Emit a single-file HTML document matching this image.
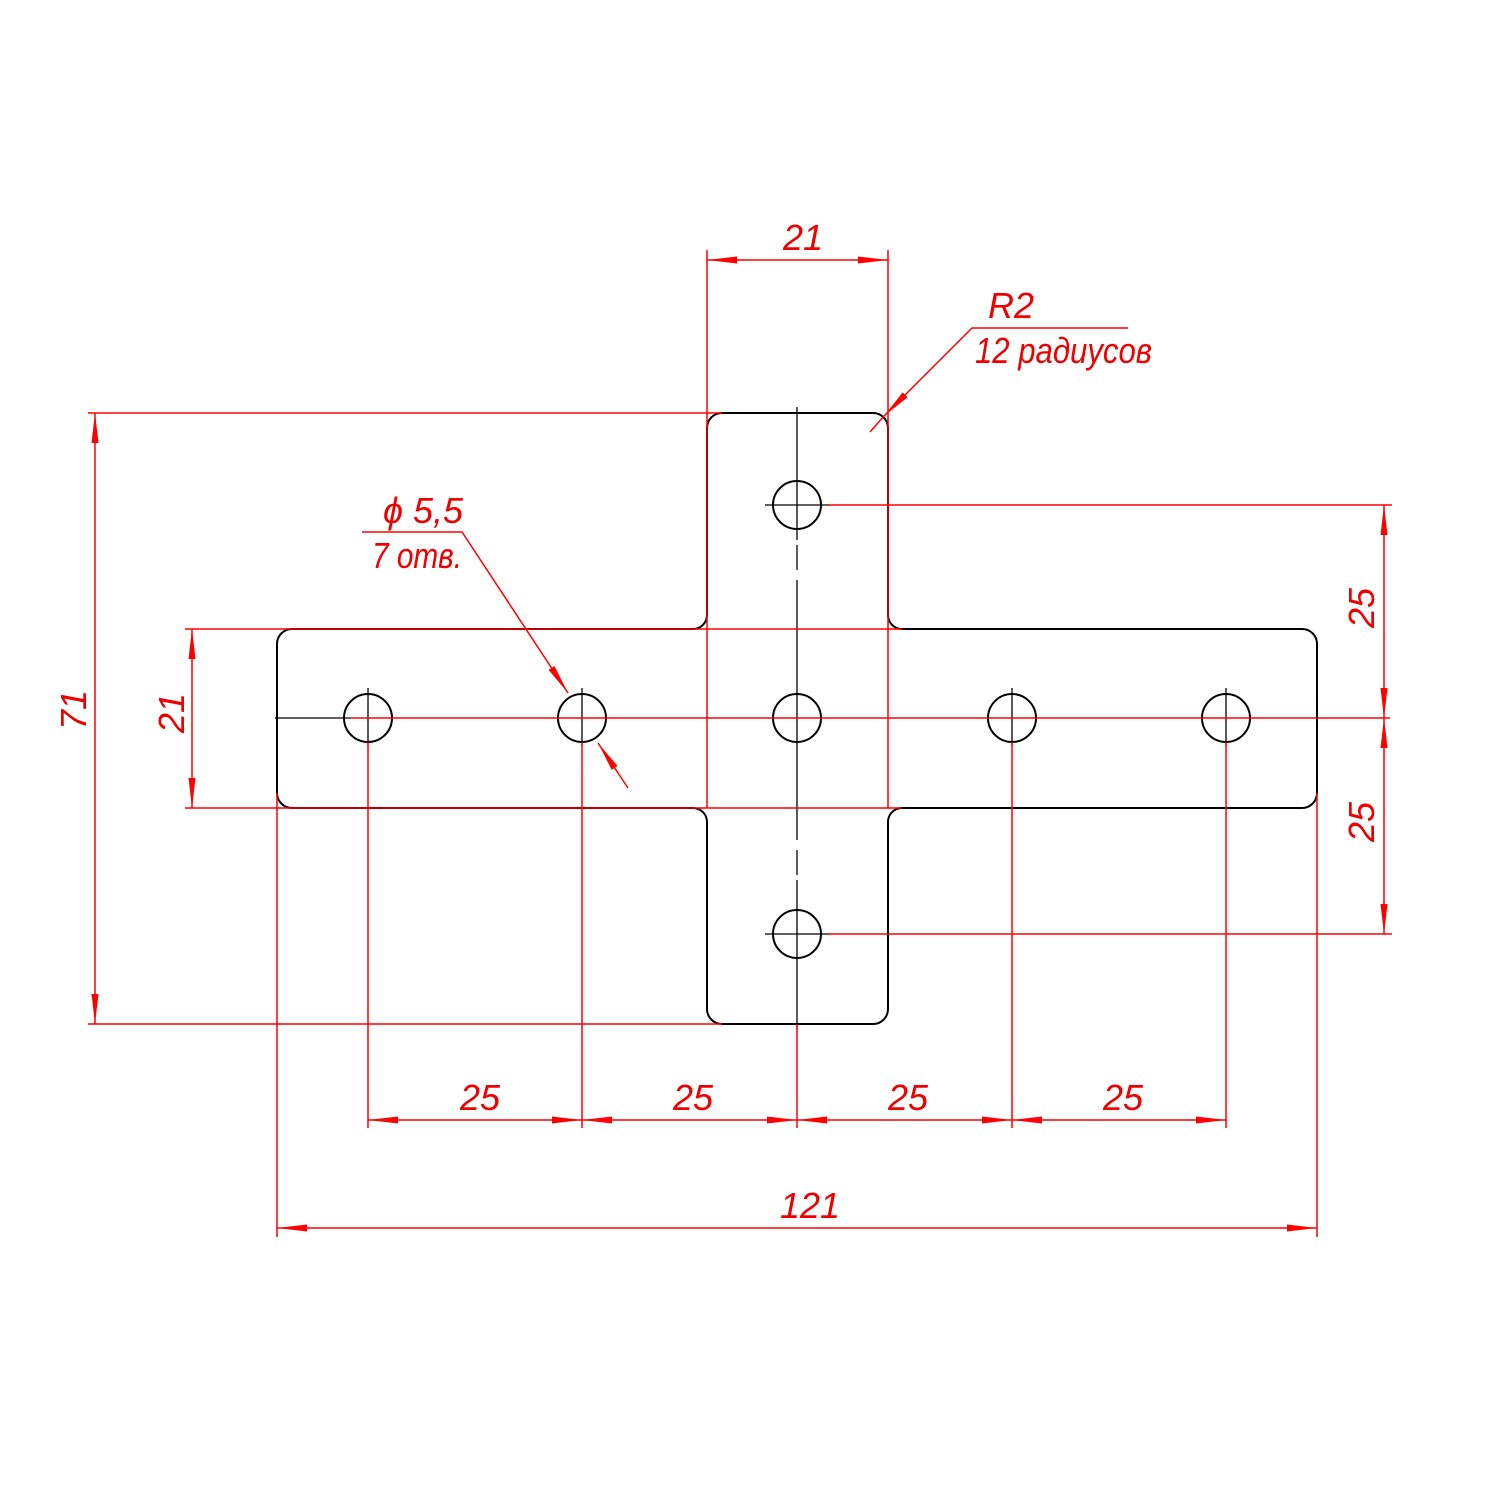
<!DOCTYPE html>
<html><head><meta charset="utf-8"><style>
html,body{margin:0;padding:0;background:#fff}
svg{display:block}
text{font-family:"Liberation Sans",sans-serif;font-style:italic;fill:#e00;font-size:36px}
</style></head><body>
<svg width="1500" height="1500" viewBox="0 0 1500 1500" xmlns="http://www.w3.org/2000/svg">
<defs>
<marker id="a" viewBox="0 0 30 10" refX="30" refY="5" markerWidth="30" markerHeight="10" markerUnits="userSpaceOnUse" orient="auto-start-reverse"><path d="M0,1.5 L30,5 L0,8.5 Z" fill="#f00"/></marker>
</defs>
<path d="M722 413 H873 A15 15 0 0 1 888 428 V615 A14 14 0 0 0 902 629 H1302 A15 15 0 0 1 1317 644 V793 A15 15 0 0 1 1302 808 H902 A14 14 0 0 0 888 822 V1009 A15 15 0 0 1 873 1024 H722 A15 15 0 0 1 707 1009 V822 A14 14 0 0 0 693 808 H292 A15 15 0 0 1 277 793 V644 A15 15 0 0 1 292 629 H693 A14 14 0 0 0 707 615 V428 A15 15 0 0 1 722 413 Z" fill="none" stroke="#000" stroke-width="2"/>
<g fill="none" stroke="#000" stroke-width="2">
<circle cx="368" cy="718" r="24"/><circle cx="582" cy="718" r="24"/><circle cx="797" cy="718" r="24"/>
<circle cx="1012" cy="718" r="24"/><circle cx="1226" cy="718" r="24"/>
<circle cx="797" cy="505" r="24"/><circle cx="797" cy="934" r="24"/>
</g>
<g stroke="#000" stroke-width="1.3">
<line x1="797" y1="407" x2="797" y2="540"/><line x1="797" y1="545" x2="797" y2="570"/>
<line x1="797" y1="580" x2="797" y2="840"/><line x1="797" y1="850" x2="797" y2="875"/>
<line x1="797" y1="880" x2="797" y2="1030"/>
<line x1="275" y1="718" x2="350" y2="718"/>
<line x1="368" y1="688" x2="368" y2="745"/><line x1="582" y1="688" x2="582" y2="745"/>
<line x1="1012" y1="688" x2="1012" y2="745"/><line x1="1226" y1="688" x2="1226" y2="745"/>
<line x1="765" y1="505" x2="830" y2="505"/><line x1="765" y1="934" x2="830" y2="934"/>
</g>
<g stroke="#f00" stroke-width="1.5" fill="none">
<line x1="350" y1="718" x2="1390" y2="718"/>
<line x1="707" y1="250" x2="707" y2="413"/><line x1="888" y1="250" x2="888" y2="808"/>
<line x1="707" y1="413" x2="707" y2="808"/>
<line x1="88" y1="413" x2="722" y2="413"/>
<line x1="88" y1="1024" x2="722" y2="1024"/>
<line x1="185" y1="629" x2="902" y2="629"/>
<line x1="185" y1="808" x2="902" y2="808"/>
<line x1="828" y1="505" x2="1392" y2="505"/>
<line x1="828" y1="934" x2="1392" y2="934"/>
<line x1="277" y1="793" x2="277" y2="1237"/><line x1="1317" y1="793" x2="1317" y2="1237"/>
<line x1="368" y1="742" x2="368" y2="1128"/><line x1="582" y1="742" x2="582" y2="1128"/>
<line x1="797" y1="1024" x2="797" y2="1128"/><line x1="1012" y1="742" x2="1012" y2="1128"/>
<line x1="1226" y1="742" x2="1226" y2="1128"/>
<line x1="707" y1="260" x2="888" y2="260" marker-start="url(#a)" marker-end="url(#a)"/>
<line x1="95" y1="413" x2="95" y2="1024" marker-start="url(#a)" marker-end="url(#a)"/>
<line x1="192" y1="629" x2="192" y2="808" marker-start="url(#a)" marker-end="url(#a)"/>
<line x1="1384" y1="505" x2="1384" y2="718" marker-start="url(#a)" marker-end="url(#a)"/>
<line x1="1384" y1="718" x2="1384" y2="934" marker-start="url(#a)" marker-end="url(#a)"/>
<line x1="368" y1="1120" x2="582" y2="1120" marker-start="url(#a)" marker-end="url(#a)"/>
<line x1="582" y1="1120" x2="797" y2="1120" marker-start="url(#a)" marker-end="url(#a)"/>
<line x1="797" y1="1120" x2="1012" y2="1120" marker-start="url(#a)" marker-end="url(#a)"/>
<line x1="1012" y1="1120" x2="1226" y2="1120" marker-start="url(#a)" marker-end="url(#a)"/>
<line x1="277" y1="1228" x2="1317" y2="1228" marker-start="url(#a)" marker-end="url(#a)"/>
<polyline points="1128,328 972,328 884,416" marker-end="url(#a)"/>
<line x1="884" y1="416" x2="870" y2="432"/>
<polyline points="362,532 462,532 568,693" marker-end="url(#a)"/>
<line x1="628" y1="788" x2="598" y2="743" marker-end="url(#a)"/>
</g>
<text x="783" y="250">21</text>
<text x="988" y="318">R2</text>
<text x="975" y="363" textLength="177" lengthAdjust="spacingAndGlyphs">12 радиусов</text>
<text x="383" y="523" textLength="80" lengthAdjust="spacingAndGlyphs">ϕ 5,5</text>
<text x="372" y="568" textLength="90" lengthAdjust="spacingAndGlyphs">7 отв.</text>
<text x="460" y="1110">25</text>
<text x="673" y="1110">25</text>
<text x="888" y="1110">25</text>
<text x="1103" y="1110">25</text>
<text x="780" y="1218">121</text>
<text transform="translate(86,730) rotate(-90)">71</text>
<text transform="translate(184,733) rotate(-90)">21</text>
<text transform="translate(1374,628) rotate(-90)">25</text>
<text transform="translate(1374,842) rotate(-90)">25</text>
</svg>
</body></html>
